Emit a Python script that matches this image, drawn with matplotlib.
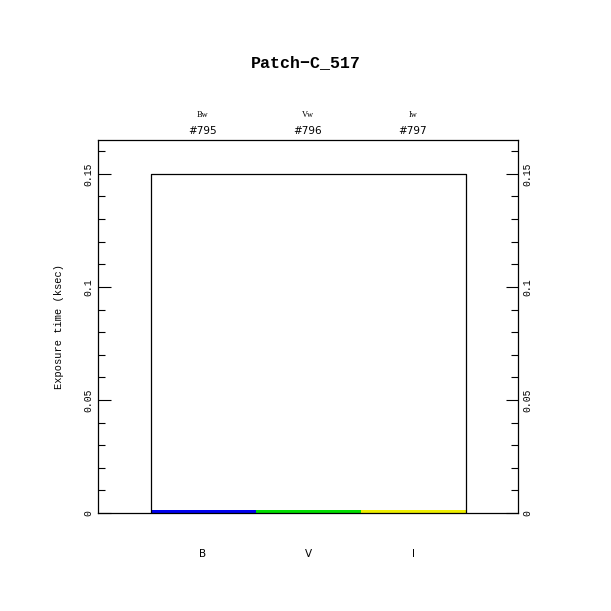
import matplotlib
matplotlib.use('Agg')
from matplotlib import pyplot as plt
from matplotlib.ticker import MultipleLocator

# filter data
filters = ['B', 'V', 'I']
filter_names = ['Bw', 'Vw', 'Iw']
frame_ids = ['#795', '#796', '#797']
exposure = [0.0012, 0.0012, 0.0012]   # ksec, per filter (thin coloured bars)
total_exposure = 0.15                 # outline height
colors = ['#0000ee', '#00dd00', '#eeee00']

fig = plt.figure(figsize=(6.11, 6.11), dpi=100)
ax = fig.add_axes([0.1604, 0.1604, 0.6874, 0.6105])

pos = list(range(len(filters)))
ax.bar(pos, exposure, width=1.0, align='edge', color=colors, linewidth=0)
# outline box around the whole set of filters
ax.plot([0, 0, len(filters), len(filters)], [0, total_exposure, total_exposure, 0],
        color='black', lw=0.9)

ax.set_xlim(-0.5, 3.5)
ax.set_ylim(0, 0.165)
ax.set_xticks([])
ax.yaxis.set_minor_locator(MultipleLocator(0.01))
ax.set_yticks([0, 0.05, 0.1, 0.15])
ax.set_yticklabels(['0', '0.05', '0.1', '0.15'])
ax.tick_params(axis='y', which='both', direction='in', left=True, right=True,
               labelleft=True, labelright=True)
ax.tick_params(axis='y', which='major', length=9, width=0.8, pad=3)
ax.tick_params(axis='y', which='minor', length=5, width=0.8)
for t in ax.yaxis.get_major_ticks():
    for lab in (t.label1, t.label2):
        lab.set_rotation(90)
        lab.set_va('center')
        lab.set_family('Liberation Mono')
        lab.set_fontsize(7)
for s in ax.spines.values():
    s.set_linewidth(0.9)

ax.set_ylabel('Exposure time (ksec)', family='Liberation Mono', fontsize=7.5, labelpad=14)

# labels below and above each filter
for i in pos:
    ax.text(i + 0.5, -0.018, filters[i], ha='center', va='center', fontsize=7.5,
            family='DejaVu Sans')
    ax.text(i + 0.5, 0.176, filter_names[i], ha='center', va='center', fontsize=6,
            family='Liberation Serif')
    ax.text(i + 0.5, 0.169, frame_ids[i], ha='center', va='center', fontsize=7.5,
            family='DejaVu Sans')

fig.text(0.5, 0.897, 'Patch\u2212C_517', ha='center', va='center', fontsize=12,
         fontweight='bold', family='Liberation Mono')

plt.savefig('out.png', dpi=100)
